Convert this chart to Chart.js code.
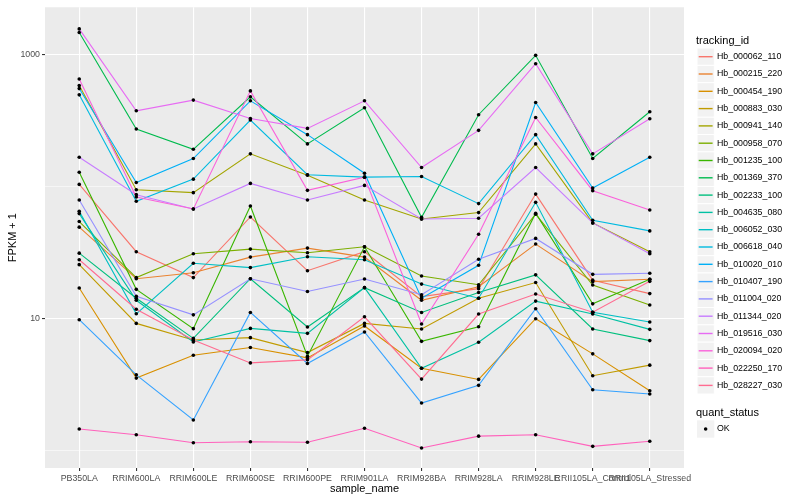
<!DOCTYPE html>
<html>
<head>
<meta charset="utf-8">
<title>FPKM + 1 by sample</title>
<script src="https://cdn.jsdelivr.net/npm/chart.js@4.4.1/dist/chart.umd.min.js"></script>
<style>
  html, body { margin: 0; padding: 0; background: #ffffff; }
  #wrap { width: 800px; height: 500px; }
</style>
</head>
<body>
<div id="wrap"><canvas id="myChart"></canvas></div>
<script>
const categories = ['PB350LA', 'RRIM600LA', 'RRIM600LE', 'RRIM600SE', 'RRIM600PE', 'RRIM901LA',
    'RRIM928BA', 'RRIM928LA', 'RRIM928LE', 'RRII105LA_Control', 'RRII105LA_Stressed'];

const trackingIds = ['Hb_000062_110', 'Hb_000215_220', 'Hb_000454_190', 'Hb_000883_030', 'Hb_000941_140',
    'Hb_000958_070', 'Hb_001235_100', 'Hb_001369_370', 'Hb_002233_100', 'Hb_004635_080',
    'Hb_006052_030', 'Hb_006618_040', 'Hb_010020_010', 'Hb_010407_190', 'Hb_011004_020',
    'Hb_011344_020', 'Hb_019516_030', 'Hb_020094_020', 'Hb_022250_170', 'Hb_028227_030'];

// FPKM + 1, one value per sample
const hb_000062_110 = [104.2, 32.2, 20.5, 59.0, 23.1, 32.2, 14.7, 16.9, 88.0, 19.6, 15.5];
const hb_000215_220 = [49.4, 20.1, 22.3, 29.3, 34.3, 29.3, 13.8, 17.5, 36.8, 19.1, 19.9];
const hb_000454_190 = [17.1, 3.55, 5.29, 6.05, 5.05, 8.81, 4.22, 3.47, 10.0, 5.42, 2.85];
const hb_000883_030 = [25.7, 9.22, 6.91, 7.19, 5.54, 9.22, 8.36, 14.3, 18.8, 3.70, 4.45];
const hb_000941_140 = [583.9, 95.0, 90.2, 177.5, 122.4, 79.3, 57.0, 63.7, 211.1, 53.2, 32.2];
const hb_000958_070 = [54.5, 20.5, 31.1, 33.7, 31.6, 35.1, 21.1, 18.1, 61.9, 18.0, 12.7];
const hb_001235_100 = [128.9, 16.7, 8.41, 71.5, 5.20, 35.1, 6.74, 8.70, 63.0, 12.97, 19.9];
const hb_001369_370 = [1475, 273.9, 192.2, 479.8, 211.1, 396.5, 58.7, 351.2, 990, 163.6, 369.8];
const hb_002233_100 = [31.4, 14.3, 7.10, 20.1, 8.66, 17.2, 11.16, 15.8, 21.5, 8.36, 6.83];
const hb_004635_080 = [62.6, 13.8, 6.67, 8.45, 7.75, 17.2, 4.22, 6.63, 13.6, 10.85, 8.31];
const hb_006052_030 = [65.2, 10.9, 26.3, 24.4, 29.5, 28.0, 18.3, 14.3, 76.2, 11.2, 9.44];
const hb_006618_040 = [496.9, 77.6, 114.2, 320.3, 123.3, 118.2, 119.7, 74.5, 248.1, 55.8, 46.3];
const hb_010020_010 = [554.2, 107.8, 163.6, 447.7, 248.1, 126.7, 14.3, 25.4, 434.6, 97.7, 167.3];
const hb_010407_190 = [9.83, 3.76, 1.71, 11.16, 4.58, 7.94, 2.30, 3.13, 11.9, 2.90, 2.69];
const hb_011004_020 = [79.3, 14.8, 10.7, 20.1, 16.1, 20.0, 15.2, 28.2, 40.6, 21.7, 22.1];
const hb_011344_020 = [167.3, 87.1, 67.9, 106.0, 79.3, 102.4, 57.0, 57.7, 139.9, 53.2, 31.1];
const hb_019516_030 = [1570, 376.3, 453.2, 329.3, 276.8, 447.7, 139.9, 267.4, 855.4, 177.5, 327.6];
const hb_020094_020 = [655.9, 83.6, 67.9, 532.5, 93.9, 118.2, 9.12, 43.7, 335.0, 93.4, 66.7];
const hb_022250_170 = [1.46, 1.32, 1.15, 1.17, 1.16, 1.48, 1.05, 1.29, 1.32, 1.08, 1.18];
const hb_028227_030 = [28.0, 11.8, 6.91, 4.63, 4.88, 10.35, 3.49, 10.85, 15.4, 11.2, 19.2];

const seriesValues = [hb_000062_110, hb_000215_220, hb_000454_190, hb_000883_030, hb_000941_140,
    hb_000958_070, hb_001235_100, hb_001369_370, hb_002233_100, hb_004635_080,
    hb_006052_030, hb_006618_040, hb_010020_010, hb_010407_190, hb_011004_020,
    hb_011344_020, hb_019516_030, hb_020094_020, hb_022250_170, hb_028227_030];

const yTicks = [1, 10, 100, 1000];
const yLabelled = [10, 1000];
const statusLevels = ['OK'];

// ggplot default hue palette for 20 groups
const palette = ['#F8766D', '#EA8331', '#D89000', '#C09B00', '#A3A500', '#7CAE00', '#39B600',
    '#00BB4E', '#00BF7D', '#00C1A3', '#00BFC4', '#00BAE0', '#00B0F6', '#35A2FF', '#9590FF',
    '#C77CFF', '#E76BF3', '#FA62DB', '#FF62BC', '#FF6C91'];

const FONT = '"Liberation Sans", Arial, Helvetica, sans-serif';

const lineSets = seriesValues.map((vals, i) => ({
    type: 'line',
    label: trackingIds[i],
    data: vals.map((v, j) => ({ x: j, y: v })),
    borderColor: palette[i],
    borderWidth: 1.1,
    pointRadius: 0,
    fill: false,
    tension: 0,
    order: 100 - i
}));

const pointSet = {
    type: 'scatter',
    label: 'OK',
    data: seriesValues.flatMap(vals => vals.map((v, j) => ({ x: j, y: v }))),
    showLine: false,
    pointRadius: 1.8,
    pointBackgroundColor: '#000000',
    pointBorderWidth: 0,
    order: 0
};

// grey panel behind the grid
const panelBg = {
    id: 'panelBg',
    beforeDraw(chart) {
        const { ctx, chartArea: a } = chart;
        ctx.save();
        ctx.fillStyle = '#EBEBEB';
        ctx.fillRect(a.left, a.top, a.right - a.left, a.bottom - a.top);
        ctx.restore();
    }
};

// axis titles + ggplot style legend
const decorations = {
    id: 'decorations',
    afterDraw(chart) {
        const { ctx, chartArea: a } = chart;
        ctx.save();
        ctx.textBaseline = 'middle';
        ctx.fillStyle = '#000000';

        ctx.font = '11px ' + FONT;
        ctx.textAlign = 'center';
        ctx.fillText('sample_name', (a.left + a.right) / 2, 489);
        ctx.save();
        ctx.translate(13, (a.top + a.bottom) / 2);
        ctx.rotate(-Math.PI / 2);
        ctx.fillText('FPKM + 1', 0, 0);
        ctx.restore();

        const kx = 697, ks = 17.3, tx = 717;
        ctx.textAlign = 'left';
        ctx.font = '11px ' + FONT;
        ctx.fillText('tracking_id', 696, 40.5);

        ctx.font = '8.8px ' + FONT;
        trackingIds.forEach((id, i) => {
            const cy = 56.7 + i * ks;
            ctx.fillStyle = '#F2F2F2';
            ctx.fillRect(kx, cy - ks / 2, ks, ks);
            ctx.strokeStyle = '#FFFFFF';
            ctx.lineWidth = 1;
            ctx.strokeRect(kx, cy - ks / 2, ks, ks);
            ctx.strokeStyle = palette[i];
            ctx.lineWidth = 1.4;
            ctx.beginPath();
            ctx.moveTo(kx + 1.7, cy);
            ctx.lineTo(kx + ks - 1.7, cy);
            ctx.stroke();
            ctx.fillStyle = '#000000';
            ctx.fillText(id, tx, cy);
        });

        ctx.font = '11px ' + FONT;
        ctx.fillText('quant_status', 696, 412.5);
        ctx.font = '8.8px ' + FONT;
        statusLevels.forEach((s, i) => {
            const cy = 429 + i * ks;
            ctx.fillStyle = '#F2F2F2';
            ctx.fillRect(kx, cy - ks / 2, ks, ks);
            ctx.fillStyle = '#000000';
            ctx.beginPath();
            ctx.arc(kx + ks / 2, cy, 1.8, 0, Math.PI * 2);
            ctx.fill();
            ctx.fillText(s, tx, cy);
        });
        ctx.restore();
    }
};

const ctx = document.getElementById('myChart').getContext('2d');
const myChart = new Chart(ctx, {
    type: 'line',
    data: {
        datasets: [...lineSets, pointSet]
    },
    plugins: [panelBg, decorations],
    options: {
        responsive: true,
        maintainAspectRatio: false,
        animation: false,
        devicePixelRatio: 1,
        layout: { padding: { top: 5, right: 116, left: 0, bottom: 0 } },
        plugins: {
            legend: { display: false },
            tooltip: { enabled: false }
        },
        scales: {
            x: {
                type: 'linear',
                min: -0.6,
                max: 10.6,
                bounds: 'data',
                afterBuildTicks: scale => {
                    scale.ticks = categories.map((c, i) => ({ value: i }));
                },
                afterFit: scale => { scale.height = 32; },
                border: { display: false },
                grid: {
                    color: '#FFFFFF',
                    lineWidth: 1.1,
                    tickColor: '#333333',
                    tickLength: 3
                },
                ticks: {
                    autoSkip: false,
                    maxRotation: 0,
                    minRotation: 0,
                    padding: 2,
                    color: '#4D4D4D',
                    font: { family: FONT, size: 8.8 },
                    callback: value => categories[value]
                }
            },
            y: {
                type: 'logarithmic',
                min: 0.74,
                max: 2289,
                bounds: 'data',
                afterBuildTicks: scale => {
                    scale.ticks = yTicks.map(v => ({ value: v, major: yLabelled.includes(v) }));
                },
                afterFit: scale => { scale.width = 45; },
                border: { display: false },
                grid: {
                    color: '#FFFFFF',
                    lineWidth: c => (c.tick && yLabelled.includes(c.tick.value)) ? 1.1 : 0.55,
                    tickColor: c => (c.tick && yLabelled.includes(c.tick.value)) ? '#333333' : 'rgba(0,0,0,0)',
                    tickLength: 3
                },
                ticks: {
                    padding: 2,
                    color: '#4D4D4D',
                    font: { family: FONT, size: 8.8 },
                    callback: value => yLabelled.includes(value) ? String(value) : ''
                }
            }
        }
    }
});
</script>
</body>
</html>
